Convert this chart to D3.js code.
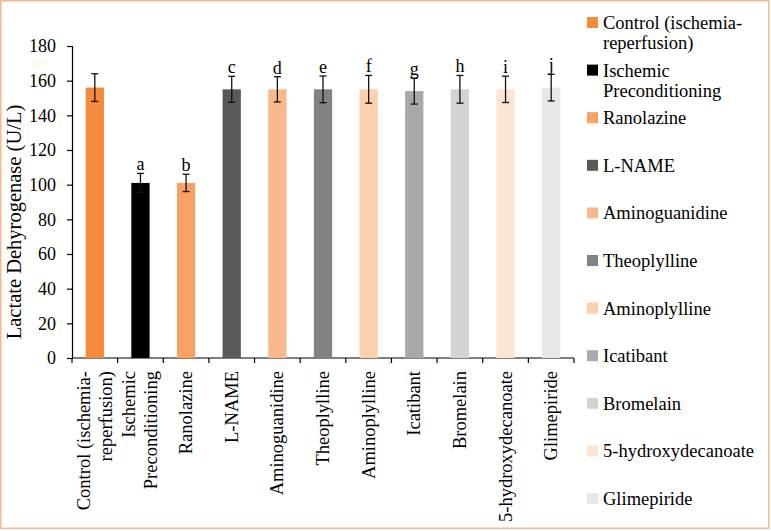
<!DOCTYPE html>
<html>
<head>
<meta charset="utf-8">
<script src="https://cdn.jsdelivr.net/npm/d3@7"></script>
<style>
  body { margin: 0; background: #fff; }
  svg text { font-family: "Liberation Serif", "DejaVu Serif", serif; fill: #000; }
</style>
</head>
<body>
<script>
const categories = [
  "Control (ischemia-\nreperfusion)",
  "Ischemic\nPreconditioning",
  "Ranolazine",
  "L-NAME",
  "Aminoguanidine",
  "Theoplylline",
  "Aminoplylline",
  "Icatibant",
  "Bromelain",
  "5-hydroxydecanoate",
  "Glimepiride"
];
const values = [156, 101, 101, 155, 155, 155, 155, 154, 155, 155, 156];
const errors = [8, 5.5, 5, 7.5, 7.3, 7.7, 8, 7.5, 8, 7.6, 7.7];
const letters = ["", "a", "b", "c", "d", "e", "f", "g", "h", "i", "j"];
const colors = ["#f58a3c", "#000000", "#f7a265", "#58595b", "#f9b88a", "#808285",
  "#fccfad", "#a7a9ac", "#d1d3d4", "#fde5d3", "#e6e7e8"];
const yTicks = [0, 20, 40, 60, 80, 100, 120, 140, 160, 180];

const w = 771;
const h = 531;
const serif = "'Liberation Serif', serif";

const svg = d3.select("body")
  .append("svg")
  .attr("width", w)
  .attr("height", h);

// thin orange frame round the figure
svg.append("rect")
  .attr("x", 0.75).attr("y", 0.75)
  .attr("width", w - 3).attr("height", h - 3.5)
  .attr("fill", "none")
  .attr("stroke", "#f9b68c")
  .attr("stroke-width", 1.5);

const x = d3.scaleBand()
  .domain(categories)
  .range([72, 574])
  .paddingInner(0.6)
  .paddingOuter(0.3);

const y = d3.scaleLinear()
  .domain([0, 180])
  .range([358, 46]);

const step = x.step();

// y axis
const yAxis = svg.append("g")
  .attr("transform", "translate(72,0)")
  .call(d3.axisLeft(y).tickValues(yTicks).tickSize(5).tickPadding(11));
yAxis.attr("font-family", null).attr("font-size", null);
yAxis.select(".domain").attr("stroke", "#000").attr("stroke-width", 1.2);
yAxis.selectAll(".tick line").attr("stroke", "#000").attr("stroke-width", 1.2);
yAxis.selectAll(".tick text")
  .style("font-family", serif)
  .style("font-size", "18px")
  .attr("fill", "#000");

svg.append("text")
  .attr("transform", "translate(21," + 222 + ") rotate(-90)")
  .attr("text-anchor", "middle")
  .style("font-family", serif)
  .style("font-size", "20.5px")
  .text("Lactate Dehyrogenase (U/L)");

// x axis line and ticks at the category boundaries
svg.append("line")
  .attr("x1", 72).attr("x2", 574)
  .attr("y1", y(0)).attr("y2", y(0))
  .attr("stroke", "#000").attr("stroke-width", 1.2);

const bounds = d3.range(categories.length + 1).map(i => 72 + i * step);
svg.selectAll(".xtick")
  .data(bounds)
  .join("line")
  .attr("class", "xtick")
  .attr("x1", d => d).attr("x2", d => d)
  .attr("y1", y(0)).attr("y2", y(0) + 5)
  .attr("stroke", "#000").attr("stroke-width", 1.2);

// bars
svg.selectAll(".bar")
  .data(categories)
  .join("rect")
  .attr("class", "bar")
  .attr("x", d => x(d))
  .attr("y", (d, i) => y(values[i]))
  .attr("width", x.bandwidth())
  .attr("height", (d, i) => y(0) - y(values[i]))
  .attr("fill", (d, i) => colors[i]);

// error bars
const cx = d => x(d) + x.bandwidth() / 2;
const err = svg.selectAll(".err")
  .data(categories)
  .join("g")
  .attr("class", "err")
  .attr("stroke", "#111")
  .attr("stroke-width", 1.3);
err.append("line")
  .attr("x1", cx).attr("x2", cx)
  .attr("y1", (d, i) => y(values[i] + errors[i]))
  .attr("y2", (d, i) => y(values[i] - errors[i]));
err.append("line")
  .attr("x1", d => cx(d) - 3.5).attr("x2", d => cx(d) + 3.5)
  .attr("y1", (d, i) => y(values[i] + errors[i]))
  .attr("y2", (d, i) => y(values[i] + errors[i]));
err.append("line")
  .attr("x1", d => cx(d) - 3.5).attr("x2", d => cx(d) + 3.5)
  .attr("y1", (d, i) => y(values[i] - errors[i]))
  .attr("y2", (d, i) => y(values[i] - errors[i]));

// letters
svg.selectAll(".letter")
  .data(categories)
  .join("text")
  .attr("class", "letter")
  .attr("x", cx)
  .attr("y", (d, i) => y(values[i] + errors[i]) - 3)
  .attr("text-anchor", "middle")
  .style("font-family", serif)
  .style("font-size", "18px")
  .text((d, i) => letters[i]);

// category labels, rotated
const lineGap = 22;
const xl = svg.selectAll(".xlabel")
  .data(categories)
  .join("text")
  .attr("class", "xlabel")
  .attr("transform", d => "translate(" + cx(d) + "," + (y(0) + 13) + ") rotate(-90)")
  .attr("text-anchor", "end")
  .style("font-family", serif)
  .style("font-size", "18.5px");
xl.each(function(d) {
  const lines = d.split("\n");
  const off = -(lines.length - 1) * lineGap / 2;
  d3.select(this).selectAll("tspan")
    .data(lines)
    .join("tspan")
    .attr("x", 0)
    .attr("y", (l, j) => off + j * lineGap + 6)
    .text(l => l);
});

// legend
const legend = svg.selectAll(".leg")
  .data(categories)
  .join("g")
  .attr("class", "leg")
  .attr("transform", (d, i) => "translate(587," + (24 + i * 47.6) + ")");
legend.append("rect")
  .attr("x", 0).attr("y", -7)
  .attr("width", 11).attr("height", 11)
  .attr("fill", (d, i) => colors[i]);
legend.append("text")
  .style("font-family", serif)
  .style("font-size", "18.5px")
  .each(function(d) {
    d3.select(this).selectAll("tspan")
      .data(d.split("\n"))
      .join("tspan")
      .attr("x", 16)
      .attr("y", (l, j) => 5 + j * 20)
      .text(l => l);
  });
</script>
</body>
</html>
